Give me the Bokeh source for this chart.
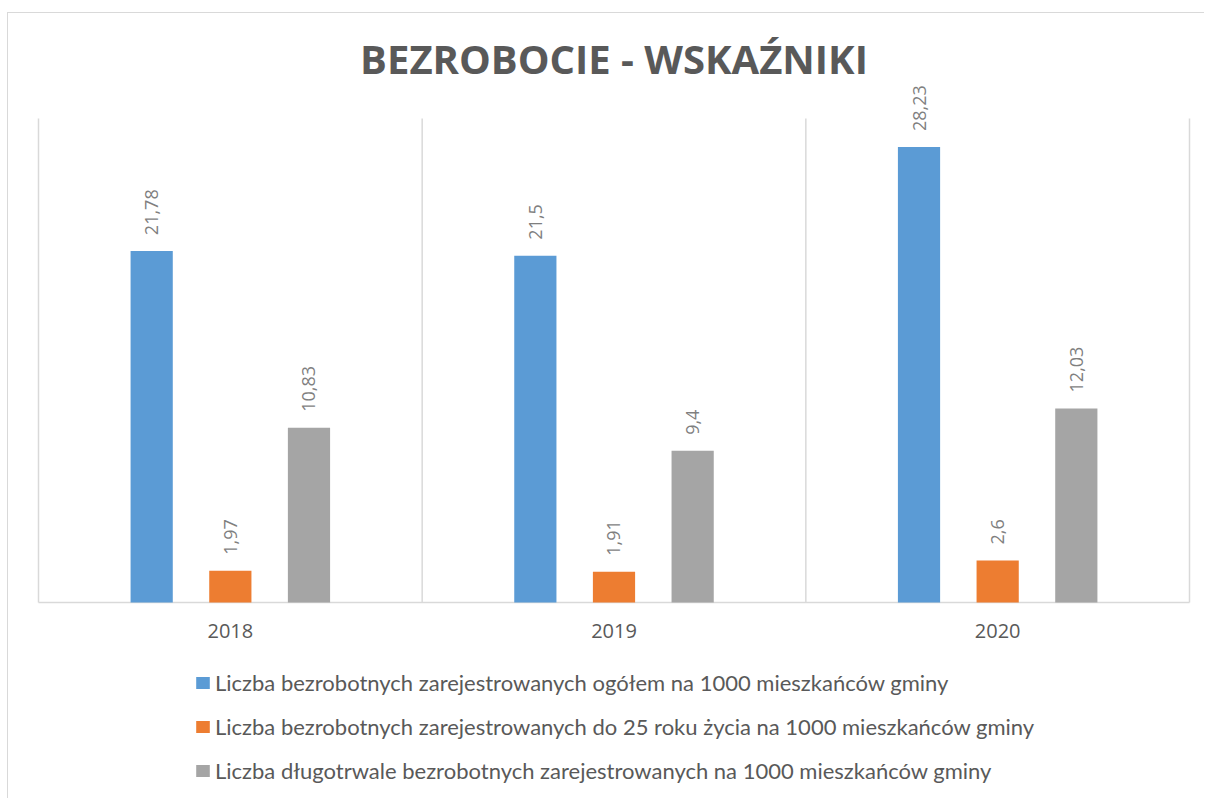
import math
from bokeh.plotting import figure
from bokeh.models import (ColumnDataSource, Range1d, LabelSet, Label, Legend, LegendItem)
from bokeh.core.properties import value
from bokeh.embed import file_html
from bokeh.resources import INLINE

# ---- data ----
years = ["2018", "2019", "2020"]
ogolem = [21.78, 21.5, 28.23]
do_25 = [1.97, 1.91, 2.6]
dlugotrwale = [10.83, 9.4, 12.03]
series_names = [
    "Liczba bezrobotnych zarejestrowanych ogółem na 1000 mieszkańców gminy",
    "Liczba bezrobotnych zarejestrowanych do 25 roku życia na 1000 mieszkańców gminy",
    "Liczba długotrwale bezrobotnych zarejestrowanych na 1000 mieszkańców gminy",
]
title_text = "BEZROBOCIE - WSKAŹNIKI"
y_max = 30

colors = ["#5B9BD5", "#ED7D31", "#A5A5A5"]
offsets = [-0.205, 0.0, 0.205]
series = [ogolem, do_25, dlugotrwale]


def fmt(v):
    return str(v).replace(".", ",")


# ---- layout (pixels within the canvas) ----
FW, FH = 1196, 785          # canvas / frame size
PL, PR = 30, 1181           # plot area left / right
PT, PB = 105, 589           # plot area top / bottom (baseline)
TITLE_Y = 45                # title baseline (canvas px from top)
cat_w = (PR - PL) / len(years)
px_u = (PB - PT) / y_max

x_range = Range1d(-PL / cat_w, (FW - PL) / cat_w)
y_range = Range1d(-(FH - PB) / px_u, PB / px_u)

p = figure(
    x_range=x_range, y_range=y_range,
    frame_width=FW, frame_height=FH,
    output_backend="svg", toolbar_location=None,
    min_border=0, margin=(12, 0, 0, 7),
)
p.styles = {"border-left": "1px solid #D9D9D9", "border-top": "1px solid #D9D9D9"}
p.outline_line_color = None
p.background_fill_color = "white"
p.border_fill_color = "white"
p.axis.visible = False
p.grid.visible = False

xc = [i + 0.5 for i in range(len(years))]

# gridlines at category boundaries and the baseline
bounds = list(range(len(years) + 1))
p.segment(x0=bounds, y0=[0] * len(bounds), x1=bounds, y1=[y_max] * len(bounds),
          line_color="#D9D9D9", line_width=1.5)
p.segment(x0=[0], y0=[0], x1=[len(years)], y1=[0], line_color="#D9D9D9", line_width=1.5)

items = []
for name, vals, col, off in zip(series_names, series, colors, offsets):
    src = ColumnDataSource(dict(x=[c + off for c in xc], y=vals, lab=[fmt(v) for v in vals]))
    r = p.vbar(x="x", top="y", bottom=0, width=0.11, source=src,
               fill_color=col, line_color=None)
    items.append(LegendItem(label=name, renderers=[r]))
    p.add_layout(LabelSet(x="x", y="y", text="lab", source=src,
                          angle=math.pi / 2, text_align="left", text_baseline="middle",
                          y_offset=16, text_font=value("Open Sans"), text_font_size="18px",
                          text_color="#7F7F7F"))

# category labels
cat_src = ColumnDataSource(dict(x=xc, y=[0] * len(years), lab=years))
p.add_layout(LabelSet(x="x", y="y", text="lab", source=cat_src, text_align="center",
                      text_baseline="middle", y_offset=-28, text_font=value("Open Sans"),
                      text_font_size="20px", text_color="#595959"))

# title
p.add_layout(Label(x=len(years) / 2, y=(PB - TITLE_Y) / px_u, text=title_text,
                   text_align="center", text_baseline="alphabetic", text_font="Open Sans",
                   text_font_size="40px", text_font_style="bold", text_color="#595959"))

legend = Legend(items=items, location=(186, 14), orientation="vertical",
                border_line_color=None, background_fill_alpha=0,
                label_text_font="Lato", label_text_font_size="22px",
                label_text_color="#595959",
                glyph_width=17, glyph_height=15, label_height=22,
                label_standoff=4, spacing=17, padding=0, margin=0)
p.add_layout(legend)

open("out.html", "w").write(file_html(p, INLINE))
